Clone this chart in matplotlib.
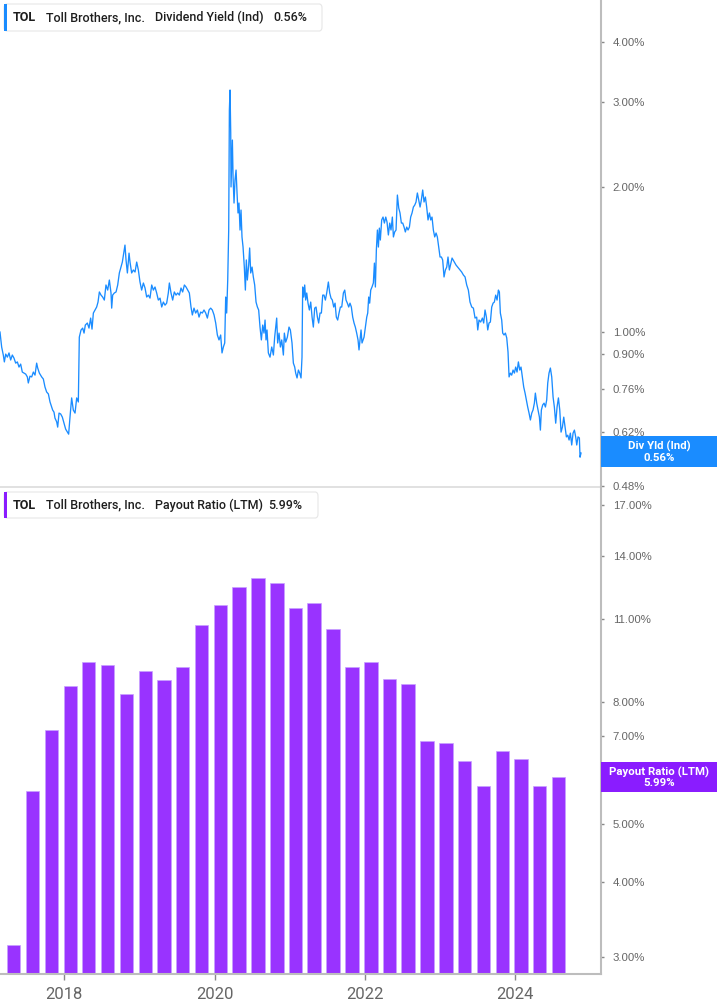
import matplotlib
matplotlib.use('Agg')
import matplotlib.pyplot as plt
from matplotlib.patches import FancyBboxPatch, Rectangle
from matplotlib.ticker import FixedLocator, NullLocator, NullFormatter, FixedFormatter
from matplotlib import font_manager
from datetime import date

# ---------------- data ----------------
# Dividend yield (indicated), decimal year -> percent
div_years = [
    2017.144, 2017.166, 2017.188, 2017.202, 2017.220, 2017.242, 2017.264, 2017.286, 2017.308, 2017.330,
    2017.353, 2017.375, 2017.397, 2017.419, 2017.441, 2017.464, 2017.486, 2017.508, 2017.521, 2017.543,
    2017.566, 2017.588, 2017.610, 2017.632, 2017.646, 2017.668, 2017.699, 2017.721, 2017.743, 2017.765,
    2017.788, 2017.810, 2017.832, 2017.845, 2017.863, 2017.876, 2017.899, 2017.912, 2017.930, 2017.952,
    2017.974, 2017.996, 2018.018, 2018.041, 2018.058, 2018.076, 2018.098, 2018.120, 2018.143, 2018.165,
    2018.187, 2018.200, 2018.223, 2018.245, 2018.263, 2018.280, 2018.307, 2018.329, 2018.351, 2018.369,
    2018.387, 2018.409, 2018.431, 2018.449, 2018.467, 2018.489, 2018.511, 2018.533, 2018.555, 2018.578,
    2018.600, 2018.622, 2018.631, 2018.644, 2018.666, 2018.689, 2018.711, 2018.733, 2018.755, 2018.773,
    2018.791, 2018.808, 2018.822, 2018.840, 2018.862, 2018.875, 2018.897, 2018.919, 2018.942, 2018.964,
    2018.986, 2019.008, 2019.030, 2019.053, 2019.075, 2019.097, 2019.119, 2019.141,
    2019.164, 2019.186, 2019.208, 2019.230, 2019.252, 2019.275, 2019.297, 2019.319, 2019.341, 2019.363,
    2019.385, 2019.399, 2019.421, 2019.443, 2019.465, 2019.488, 2019.510, 2019.532, 2019.554, 2019.576,
    2019.599, 2019.621, 2019.643, 2019.665, 2019.687, 2019.705, 2019.727, 2019.749, 2019.772, 2019.794,
    2019.816, 2019.838, 2019.860, 2019.883, 2019.905, 2019.927, 2019.949, 2019.971, 2019.994, 2020.016,
    2020.038, 2020.060, 2020.082, 2020.100, 2020.118, 2020.136, 2020.149, 2020.162, 2020.176, 2020.189,
    2020.198, 2020.207, 2020.216, 2020.220, 2020.229, 2020.238, 2020.247, 2020.260, 2020.273, 2020.287,
    2020.300, 2020.313, 2020.326, 2020.340, 2020.353, 2020.366, 2020.380, 2020.397, 2020.411, 2020.424,
    2020.437, 2020.455, 2020.468, 2020.482, 2020.500, 2020.517, 2020.535, 2020.553, 2020.571, 2020.588,
    2020.606, 2020.624, 2020.642, 2020.659, 2020.673, 2020.686, 2020.699, 2020.717, 2020.739, 2020.762,
    2020.784, 2020.801, 2020.815, 2020.828, 2020.841, 2020.859, 2020.877, 2020.895, 2020.917, 2020.930,
    2020.948, 2020.970, 2020.992, 2021.010, 2021.032, 2021.050, 2021.068, 2021.081, 2021.099, 2021.117,
    2021.134,
    2021.152, 2021.165, 2021.174, 2021.188, 2021.201, 2021.214, 2021.228, 2021.245, 2021.263, 2021.281,
    2021.299, 2021.316, 2021.334, 2021.352, 2021.370, 2021.387, 2021.405, 2021.423, 2021.441, 2021.458,
    2021.476, 2021.494, 2021.516, 2021.534, 2021.551, 2021.569, 2021.587, 2021.605, 2021.622, 2021.640,
    2021.658, 2021.676, 2021.694, 2021.716, 2021.734, 2021.751, 2021.769, 2021.787, 2021.804, 2021.822,
    2021.840, 2021.858, 2021.875, 2021.893, 2021.911, 2021.924, 2021.938, 2021.951, 2021.964, 2021.978,
    2021.991, 2022.009, 2022.027, 2022.040, 2022.053, 2022.066, 2022.080, 2022.097, 2022.115, 2022.129,
    2022.142, 2022.155, 2022.169, 2022.182, 2022.195, 2022.208, 2022.226, 2022.244, 2022.262, 2022.280,
    2022.297, 2022.315, 2022.333, 2022.350, 2022.368, 2022.382, 2022.399, 2022.417, 2022.435, 2022.453,
    2022.470, 2022.488, 2022.506, 2022.524, 2022.541, 2022.559, 2022.577, 2022.595, 2022.612, 2022.630,
    2022.648, 2022.666, 2022.683, 2022.701, 2022.719, 2022.737, 2022.754, 2022.772, 2022.790, 2022.808,
    2022.825, 2022.843, 2022.861, 2022.879, 2022.896, 2022.914, 2022.932, 2022.950, 2022.967, 2022.985,
    2023.003, 2023.021, 2023.038, 2023.056, 2023.074, 2023.092, 2023.109, 2023.127, 2023.163, 2023.216,
    2023.291, 2023.314, 2023.336, 2023.358, 2023.380, 2023.402, 2023.425, 2023.447, 2023.469, 2023.491,
    2023.505, 2023.522, 2023.544, 2023.567, 2023.584, 2023.602, 2023.620, 2023.638, 2023.655, 2023.673,
    2023.691, 2023.709, 2023.726, 2023.744, 2023.762, 2023.780, 2023.793, 2023.806, 2023.824, 2023.837,
    2023.855, 2023.873, 2023.891, 2023.908, 2023.922, 2023.939, 2023.957, 2023.975, 2023.993, 2024.010,
    2024.028, 2024.046, 2024.064, 2024.081, 2024.099, 2024.117, 2024.135, 2024.152, 2024.170, 2024.188,
    2024.206, 2024.224, 2024.241, 2024.259, 2024.272, 2024.290, 2024.308, 2024.326, 2024.339, 2024.352,
    2024.370, 2024.388, 2024.406, 2024.423, 2024.437, 2024.454, 2024.472, 2024.490, 2024.508, 2024.525,
    2024.543, 2024.561, 2024.579, 2024.597, 2024.614, 2024.632, 2024.650, 2024.667, 2024.685, 2024.703,
    2024.721, 2024.738, 2024.756, 2024.774, 2024.792, 2024.809, 2024.823, 2024.840, 2024.858, 2024.867,
    2024.880,
]
div_yield = [
    1.000, 0.931, 0.896, 0.867, 0.900, 0.887, 0.905, 0.875, 0.896, 0.883,
    0.862, 0.867, 0.846, 0.858, 0.826, 0.822, 0.818, 0.807, 0.784, 0.810,
    0.807, 0.826, 0.814, 0.862, 0.842, 0.822, 0.807, 0.799, 0.769, 0.751,
    0.744, 0.716, 0.699, 0.689, 0.682, 0.663, 0.651, 0.635, 0.679, 0.676,
    0.666, 0.647, 0.629, 0.620, 0.614, 0.666, 0.730, 0.689, 0.679, 0.730,
    0.716, 0.976, 1.010, 1.019, 0.995, 1.034, 1.044, 1.019, 1.069, 1.014,
    1.095, 1.111, 1.127, 1.154, 1.211, 1.193, 1.182, 1.165, 1.252, 1.222,
    1.282, 1.205, 1.121, 1.193, 1.205, 1.211, 1.252, 1.326, 1.364, 1.397,
    1.458, 1.515, 1.411, 1.326, 1.458, 1.397, 1.326, 1.345, 1.332, 1.397,
    1.345, 1.270, 1.222, 1.264, 1.234, 1.182, 1.193, 1.176,
    1.252, 1.222, 1.240, 1.205, 1.165, 1.176, 1.127, 1.154, 1.137, 1.148,
    1.205, 1.264, 1.205, 1.165, 1.211, 1.193, 1.205, 1.193, 1.234, 1.211,
    1.252, 1.240, 1.222, 1.205, 1.127, 1.085, 1.121, 1.095, 1.111, 1.074,
    1.100, 1.095, 1.111, 1.095, 1.069, 1.111, 1.121, 1.111, 1.085, 1.044,
    0.986, 0.963, 0.986, 0.905, 0.931, 0.949, 1.182, 1.095, 1.282, 1.628,
    2.888, 3.178, 2.588, 2.000, 2.242, 2.502, 2.097, 1.852, 2.067, 2.168,
    1.943, 1.766, 1.852, 1.628, 1.791, 1.575, 1.501, 1.364, 1.222, 1.411,
    1.282, 1.377, 1.494, 1.326, 1.364, 1.301, 1.252, 1.154, 1.127, 1.111,
    1.024, 0.963, 1.034, 0.995, 1.059, 0.963, 1.010, 0.905, 0.887, 0.931,
    0.896, 0.976, 1.024, 1.069, 0.949, 0.995, 0.931, 0.963, 0.896, 0.995,
    0.953, 0.976, 1.024, 1.010, 0.949, 0.862, 0.846, 0.822, 0.803, 0.834,
    0.822,
    0.803, 0.887, 1.240, 1.182, 1.252, 1.165, 1.205, 1.148, 1.111, 1.154,
    1.074, 1.024, 1.121, 1.127, 1.074, 1.044, 1.095, 1.095, 1.193, 1.193,
    1.165, 1.205, 1.270, 1.205, 1.176, 1.165, 1.127, 1.148, 1.074, 1.059,
    1.095, 1.127, 1.127, 1.205, 1.222, 1.165, 1.148, 1.127, 1.148, 1.127,
    1.074, 1.044, 1.024, 0.995, 0.963, 0.918, 0.963, 1.010, 0.949, 0.963,
    0.976, 1.024, 1.074, 1.095, 1.182, 1.148, 1.222, 1.240, 1.264, 1.390,
    1.240, 1.480, 1.628, 1.501, 1.643, 1.552, 1.708, 1.732, 1.683, 1.732,
    1.691, 1.590, 1.683, 1.628, 1.732, 1.575, 1.613, 1.628, 1.924, 1.808,
    1.766, 1.683, 1.683, 1.651, 1.613, 1.651, 1.628, 1.651, 1.732, 1.766,
    1.817, 1.834, 1.861, 1.943, 1.879, 1.817, 1.879, 1.971, 1.861, 1.906,
    1.817, 1.708, 1.766, 1.708, 1.732, 1.628, 1.575, 1.605, 1.575, 1.501,
    1.431, 1.431, 1.411, 1.301, 1.345, 1.364, 1.431, 1.345, 1.424, 1.377,
    1.332, 1.313, 1.301, 1.252, 1.222, 1.154, 1.127, 1.121, 1.069, 1.074,
    1.010, 1.059, 1.049, 1.069, 1.044, 1.111, 1.074, 1.010, 1.044, 1.049,
    1.127, 1.148, 1.154, 1.193, 1.165, 1.222, 1.211, 1.095, 1.059, 0.995,
    0.986, 0.995, 0.972, 0.909, 0.807, 0.822, 0.814, 0.834, 0.822, 0.846,
    0.826, 0.867, 0.834, 0.846, 0.807, 0.769, 0.747, 0.723, 0.699, 0.679,
    0.657, 0.679, 0.689, 0.712, 0.747, 0.712, 0.689, 0.666, 0.626, 0.689,
    0.706, 0.712, 0.699, 0.723, 0.784, 0.822, 0.842, 0.807, 0.733, 0.699,
    0.647, 0.699, 0.730, 0.689, 0.620, 0.635, 0.666, 0.635, 0.606, 0.611,
    0.597, 0.617, 0.583, 0.617, 0.626, 0.606, 0.583, 0.606, 0.603, 0.550,
    0.561,
]

# Payout ratio (LTM), fiscal quarter ends -> percent
payout_dates = [
    "2017-04-30", "2017-07-31", "2017-10-31", "2018-01-31", "2018-04-30", "2018-07-31",
    "2018-10-31", "2019-01-31", "2019-04-30", "2019-07-31", "2019-10-31", "2020-01-31",
    "2020-04-30", "2020-07-31", "2020-10-31", "2021-01-31", "2021-04-30", "2021-07-31",
    "2021-10-31", "2022-01-31", "2022-04-30", "2022-07-31", "2022-10-31", "2023-01-31",
    "2023-04-30", "2023-07-31", "2023-10-31", "2024-01-31", "2024-04-30", "2024-07-31",
]
payout_ratio = [
    3.14, 5.67, 7.17, 8.49, 9.30, 9.19,
    8.23, 8.99, 8.68, 9.15, 10.73, 11.58,
    12.41, 12.84, 12.60, 11.45, 11.67, 10.56,
    9.15, 9.32, 8.72, 8.55, 6.87, 6.81,
    6.36, 5.78, 6.61, 6.41, 5.78, 5.99,
]

yield_ticks = [0.48, 0.62, 0.76, 0.90, 1.00, 2.00, 3.00, 4.00]
payout_ticks = [3, 4, 5, 6, 7, 8, 11, 14, 17]
year_ticks = [2018, 2020, 2022, 2024]

last_yield = "0.56%"
last_payout = "5.99%"

# ---------------- style ----------------
BLUE = '#1a8cff'
PURPLE = '#9933ff'
PURPLE_BADGE = '#8a1cff'
GRID = '#bdbdbd'
TXT = '#666666'

names = {f.name for f in font_manager.fontManager.ttflist}
NARROW = 'Liberation Sans Narrow' if 'Liberation Sans Narrow' in names else 'Roboto'
BASE = 'Liberation Sans' if 'Liberation Sans' in names else 'DejaVu Sans'
plt.rcParams['font.family'] = [BASE, 'DejaVu Sans']


def to_year(s):
    d = date.fromisoformat(s)
    start = date(d.year, 1, 1)
    n = (date(d.year + 1, 1, 1) - start).days
    return d.year + (d - start).days / n


payout_x = [to_year(s) for s in payout_dates]

W, H = 717, 1005
fig = plt.figure(figsize=(W / 100, H / 100), dpi=100)
fig.patch.set_facecolor('white')


def fx(x):
    return x / W


def fy(y):
    return 1 - y / H


ax1 = fig.add_axes([0, fy(487), fx(601), 487 / H])
ax2 = fig.add_axes([0, fy(974), fx(601), (974 - 487) / H])

xmin, xmax = 2017.144, 2025.146

ax1.plot(div_years, div_yield, color=BLUE, lw=0.95, solid_joinstyle='round')
ax1.set_ylim(0.477, 4.885)

ax2.bar(payout_x, payout_ratio, width=0.177, color=PURPLE, edgecolor='#c8a2ff',
        linewidth=0.5, align='center')
ax2.set_ylim(2.812, 18.22)

for ax, ticks in ((ax1, yield_ticks), (ax2, payout_ticks)):
    ax.set_yscale('log')
    ax.set_xlim(xmin, xmax)
    ax.yaxis.tick_right()
    ax.yaxis.set_major_locator(FixedLocator(ticks))
    ax.yaxis.set_major_formatter(FixedFormatter([f"{t:.2f}%" for t in ticks]))
    ax.yaxis.set_minor_locator(NullLocator())
    ax.yaxis.set_minor_formatter(NullFormatter())
    ax.spines['top'].set_visible(False)
    ax.spines['left'].set_visible(False)
    ax.spines['right'].set_color(GRID)
    ax.spines['right'].set_linewidth(1.5)
    ax.tick_params(axis='y', which='major', direction='out', length=2.5, width=1,
                   color='#888888', pad=6, labelsize=8.2, labelcolor=TXT)
    ax.patch.set_alpha(0)

ax1.spines['bottom'].set_color('#dcdcdc')
ax1.spines['bottom'].set_linewidth(1.2)
ax1.set_xticks([])

ax2.spines['bottom'].set_color(GRID)
ax2.spines['bottom'].set_linewidth(1.5)
ax2.set_xticks(year_ticks)
ax2.set_xticklabels([str(y) for y in year_ticks], fontfamily=NARROW)
ax2.tick_params(axis='x', direction='out', length=4, width=1, color='#888888',
                pad=5, labelsize=12, labelcolor=TXT)
ax2.xaxis.set_minor_locator(NullLocator())


# ---------------- legends ----------------
def legend_box(y0, y1, x1, color, parts):
    box = FancyBboxPatch((fx(4), fy(y1)), fx(x1) - fx(4), fy(y0) - fy(y1),
                         boxstyle="round,pad=0,rounding_size=0.004",
                         transform=fig.transFigure, facecolor='white',
                         edgecolor='#e6e6e6', linewidth=0.8, zorder=10)
    fig.add_artist(box)
    bar = Rectangle((fx(4), fy(y1)), fx(7) - fx(4), fy(y0) - fy(y1),
                    transform=fig.transFigure, facecolor=color, edgecolor='none', zorder=11)
    fig.add_artist(bar)
    yc = fy((y0 + y1) / 2)
    for x, s, w in parts:
        fig.text(fx(x), yc, s, ha='left', va='center', fontsize=9.0,
                 fontfamily=[NARROW, 'DejaVu Sans'], fontweight=w, color='#1e1e1e', zorder=12)


legend_box(4, 31, 322, BLUE, [(13, "TOL", 'bold'), (46, "Toll Brothers, Inc.", 'medium'),
                              (155, "Dividend Yield (Ind)", 'medium'), (273, last_yield, 'medium')])
legend_box(492, 518, 318, PURPLE_BADGE, [(13, "TOL", 'bold'), (46, "Toll Brothers, Inc.", 'medium'),
                                        (155, "Payout Ratio (LTM)", 'medium'), (268, last_payout, 'medium')])


# ---------------- value badges ----------------
def badge(y0, y1, color, line1, line2):
    r = Rectangle((fx(601), fy(y1)), 1 - fx(601), fy(y0) - fy(y1), transform=fig.transFigure,
                  facecolor=color, edgecolor='none', zorder=20)
    fig.add_artist(r)
    xc = fx(659)
    fig.text(xc, fy(y0 + (y1 - y0) * 0.33), line1, ha='center', va='center', fontsize=8.2,
             fontfamily=[NARROW, 'DejaVu Sans'], fontweight='bold', color='white', zorder=21)
    fig.text(xc, fy(y0 + (y1 - y0) * 0.70), line2, ha='center', va='center', fontsize=8.2,
             fontfamily=[NARROW, 'DejaVu Sans'], fontweight='bold', color='white', zorder=21)


badge(436, 467, BLUE, "Div Yld (Ind)", last_yield)
badge(762, 792, PURPLE_BADGE, "Payout Ratio (LTM)", last_payout)

fig.savefig('out.png', dpi=100, facecolor='white')
